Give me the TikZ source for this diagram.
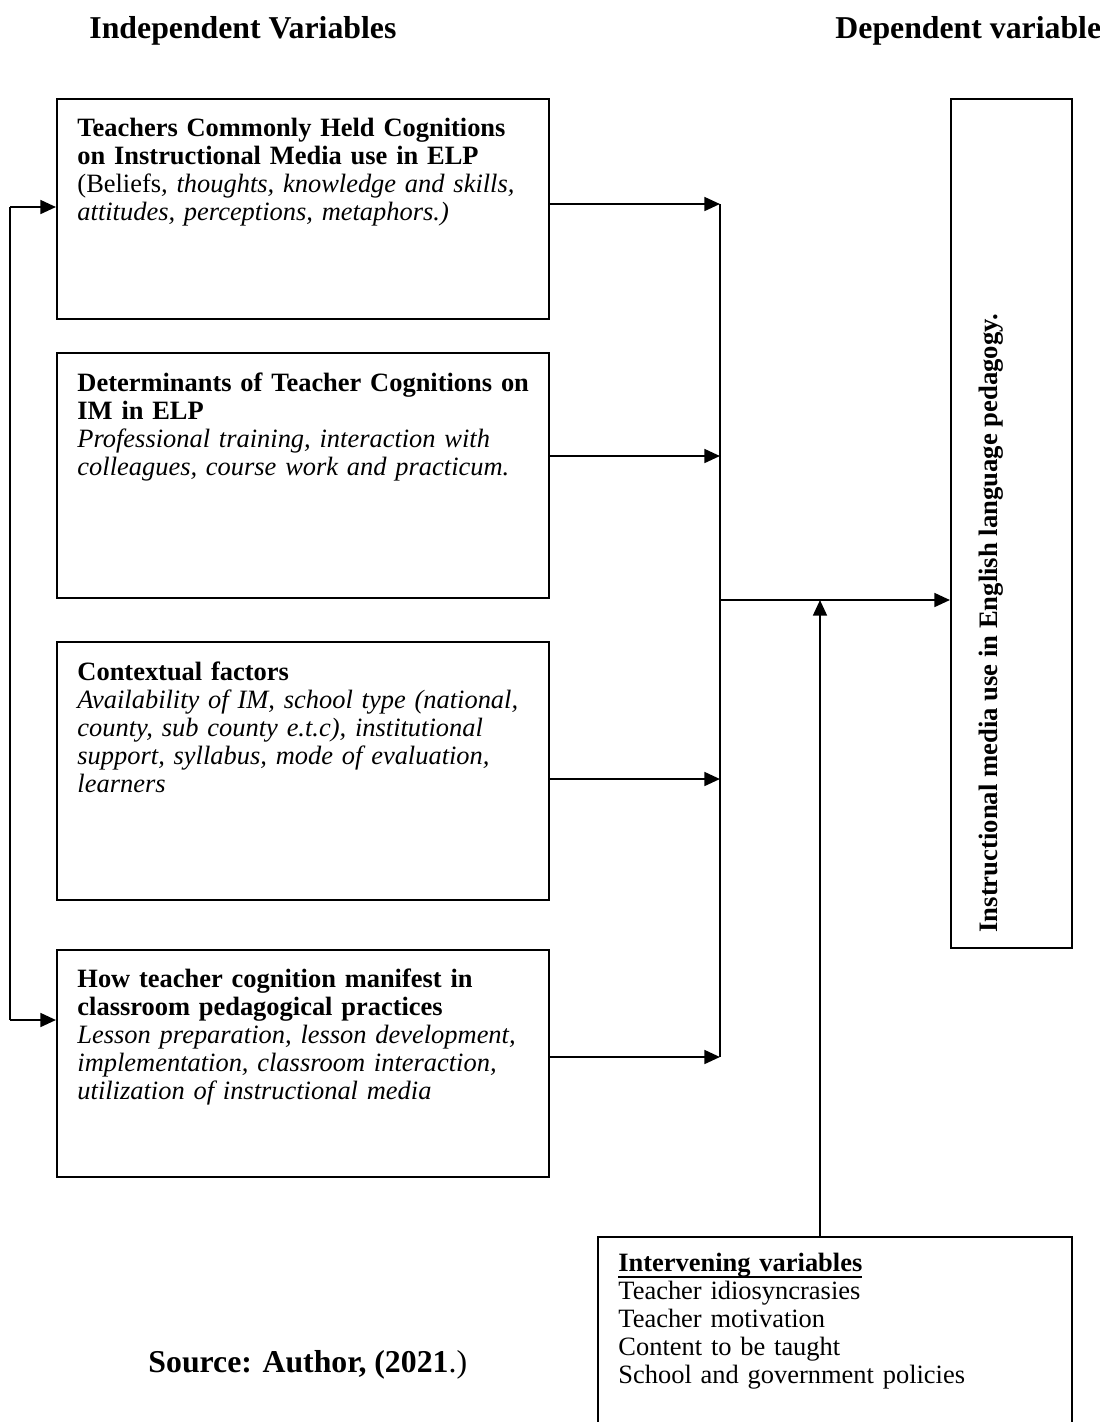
\documentclass[tikz,border=0pt]{standalone}
\usepackage{fontspec}
\setmainfont{Liberation Serif}
\usetikzlibrary{arrows.meta}
\newlength\myulw
\begin{document}
\begin{tikzpicture}[x=0.45pt,y=-0.45pt,
  box/.style={draw, line width=0.85pt, inner sep=0pt, anchor=north west},
  txt/.style={anchor=base west, inner sep=0pt, text width=235pt, align=left, font=\fontsize{11.9}{12.7}\selectfont},
  conn/.style={line width=1pt},
  arr/.style={line width=1pt, -{Triangle[length=7pt,width=6.2pt]}},
  head/.style={anchor=base west, inner sep=0pt, font=\fontsize{14.3}{16}\selectfont\bfseries}]
\clip (0,0) rectangle (1100,1422);
\fill[white] (0,0) rectangle (1100,1422);

% headers
\node[head] (h1) at (89,38) {Independent Variables};
\node[head] (h2) at (835,38) {Dependent variable};

% boxes
\node[box, minimum width=221.4pt, minimum height=99pt] (B1) at (56,98) {};
\node[box, minimum width=221.4pt, minimum height=110.25pt] (B2) at (56,352) {};
\node[box, minimum width=221.4pt, minimum height=116.1pt] (B3) at (56,641) {};
\node[box, minimum width=221.4pt, minimum height=102.15pt] (B4) at (56,949) {};
\node[box, minimum width=54.45pt, minimum height=382.05pt] (R) at (950,98) {};
\node[box, minimum width=213.3pt, minimum height=99pt] (I) at (597,1236) {};

% box texts
\node[txt] (T1) at (77,136) {\textbf{Teachers Commonly Held Cognitions}\\
\textbf{on Instructional Media use in ELP}\\
(Beliefs\textit{, thoughts, knowledge and skills,}\\
\textit{attitudes, perceptions, metaphors.)}};
\node[txt] (T2) at (77,391) {\textbf{Determinants of Teacher Cognitions on}\\
\textbf{IM in ELP}\\
\textit{Professional training, interaction with}\\
\textit{colleagues, course work and practicum.}};
\node[txt] (T3) at (77,680) {\textbf{Contextual factors}\\
\textit{Availability of IM, school type (national,}\\
\textit{county, sub county e.t.c), institutional}\\
\textit{support, syllabus, mode of evaluation,}\\
\textit{learners}};
\node[txt] (T4) at (77,987) {\textbf{How teacher cognition manifest in}\\
\textbf{classroom pedagogical practices}\\
\textit{Lesson preparation, lesson development,}\\
\textit{implementation, classroom interaction,}\\
\textit{utilization of instructional media}};
\node[txt] (TI) at (618,1271) {\settowidth{\myulw}{\textbf{Intervening variables}}\rlap{\rule[-3.1pt]{\myulw}{1pt}}\textbf{Intervening variables}\\
Teacher idiosyncrasies\\
Teacher motivation\\
Content to be taught\\
School and government policies};

% vertical text
\node[anchor=base west, inner sep=0pt, rotate=90, font=\fontsize{12}{14}\selectfont\bfseries] (V) at (997,933) {Instructional media use in English language pedagogy.};

% source
\node[head] (S) at (148,1372) {Source: Author, (2021\textmd{.)}};

% junction coordinates
\coordinate (j1) at (720,204);
\coordinate (j2) at (720,456);
\coordinate (j3) at (720,779);
\coordinate (j4) at (720,1057);
\coordinate (jm) at (720,600);
\coordinate (iv) at (820,600);
\coordinate (L1) at (10,207);
\coordinate (L4) at (10,1020);

% connectors
\draw[arr] (B1.east |- j1) -- (j1);
\draw[arr] (B2.east |- j2) -- (j2);
\draw[arr] (B3.east |- j3) -- (j3);
\draw[arr] (B4.east |- j4) -- (j4);
\draw[conn] (j1) -- (j4);
\draw[arr] (jm) -- (R.west |- jm);
\draw[arr] (I.north -| iv) -- (iv);
\draw[conn] (L1) -- (L4);
\draw[arr] (L1) -- (B1.west |- L1);
\draw[arr] (L4) -- (B4.west |- L4);
\end{tikzpicture}
\end{document}
